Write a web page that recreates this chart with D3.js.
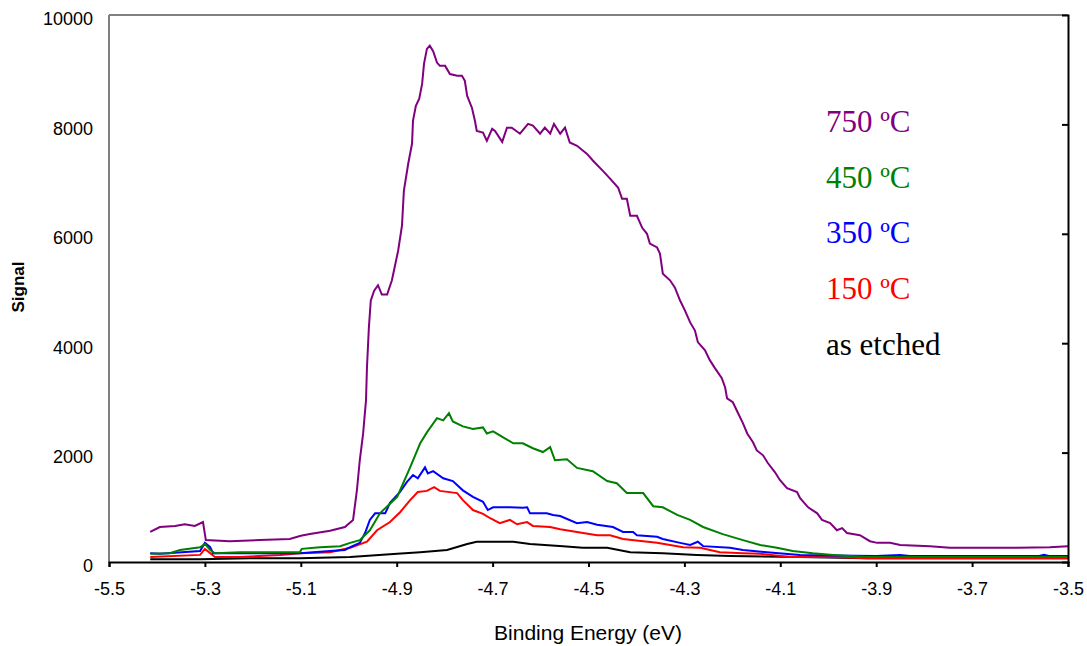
<!DOCTYPE html>
<head>
  <meta charset="utf-8">
  <script src="https://cdn.jsdelivr.net/npm/d3@7"></script>
  <style>
    body { margin: 0; background: #fff; }
    .tick text { font-family: "Liberation Sans", Arial, sans-serif; font-size: 18px; fill: #000; }
  </style>
</head>
<body>
<svg id="chart" width="1087" height="646"></svg>
<script>
// [binding energy (eV), signal]
var s750 = [[-5.414,550],[-5.394,640],[-5.362,660],[-5.342,690],[-5.321,660],[-5.304,730],[-5.298,400],[-5.248,380],
  [-5.185,400],[-5.123,420],[-5.100,480],[-5.081,510],[-5.039,570],[-5.008,640],[-4.991,770],[-4.983,1310],[-4.977,1860],[-4.970,2350],
  [-4.964,2960],[-4.962,3560],[-4.958,4290],[-4.954,4780],[-4.947,4960],[-4.939,5060],[-4.931,4890],[-4.920,4890],
  [-4.910,5150],[-4.897,5690],[-4.889,6150],[-4.885,6790],[-4.876,7280],[-4.868,7650],[-4.866,8070],[-4.860,8340],
  [-4.853,8470],[-4.847,8740],[-4.843,9110],[-4.837,9380],[-4.831,9440],[-4.824,9340],[-4.816,9130],[-4.810,9070],
  [-4.799,9070],[-4.789,8920],[-4.774,8890],[-4.764,8890],[-4.758,8800],[-4.753,8520],[-4.743,8300],[-4.737,8070],
  [-4.733,7880],[-4.720,7850],[-4.712,7700],[-4.701,7920],[-4.695,7880],[-4.680,7680],[-4.670,7940],[-4.660,7940],
  [-4.643,7830],[-4.626,8010],[-4.616,7980],[-4.601,7830],[-4.591,7940],[-4.580,7830],[-4.572,8010],[-4.559,7830],
  [-4.549,7940],[-4.539,7670],[-4.524,7610],[-4.503,7460],[-4.491,7340],[-4.470,7150],[-4.455,7010],[-4.438,6840],
  [-4.430,6640],[-4.420,6640],[-4.413,6330],[-4.399,6330],[-4.388,6110],[-4.378,6000],[-4.372,5820],[-4.357,5750],
  [-4.351,5640],[-4.345,5270],[-4.330,5150],[-4.320,5020],[-4.309,4780],[-4.299,4600],[-4.288,4380],[-4.278,4230],
  [-4.272,4020],[-4.257,3870],[-4.247,3690],[-4.236,3540],[-4.222,3360],[-4.215,3190],[-4.211,2990],[-4.199,2920],
  [-4.188,2720],[-4.178,2540],[-4.169,2350],[-4.157,2190],[-4.149,2040],[-4.136,1950],[-4.126,1810],[-4.111,1640],
  [-4.101,1500],[-4.086,1350],[-4.065,1280],[-4.059,1170],[-4.042,1000],[-4.023,890],[-4.013,770],[-3.996,710],
  [-3.982,580],[-3.971,620],[-3.961,530],[-3.934,490],[-3.913,380],[-3.898,350],[-3.871,350],[-3.850,310],
  [-3.788,290],[-3.746,260],[-3.677,260],[-3.606,260],[-3.538,270],[-3.500,290]]

var s450 = [[-5.414,150],[-5.373,160],[-5.352,220],[-5.310,270],[-5.300,330],[-5.289,220],[-5.279,160],[-5.227,180],
  [-5.102,180],[-5.098,240],[-5.060,270],[-5.018,290],[-4.997,350],[-4.977,400],[-4.956,580],[-4.935,890],[-4.899,1190],
  [-4.872,1730],[-4.851,2170],[-4.837,2370],[-4.816,2630],[-4.803,2590],[-4.791,2720],[-4.783,2570],[-4.762,2480],
  [-4.741,2430],[-4.720,2460],[-4.712,2350],[-4.699,2390],[-4.678,2280],[-4.657,2170],[-4.637,2170],[-4.616,2080],
  [-4.595,2010],[-4.580,2100],[-4.570,1860],[-4.545,1880],[-4.524,1720],[-4.491,1660],[-4.461,1480],[-4.441,1440],
  [-4.420,1260],[-4.386,1260],[-4.365,1020],[-4.345,1000],[-4.315,860],[-4.288,770],[-4.261,640],[-4.220,510],
  [-4.178,400],[-4.142,310],[-4.107,260],[-4.074,200],[-4.032,160],[-3.990,130],[-3.919,90],[-3.500,90]]

var s350 = [[-5.414,160],[-5.394,150],[-5.310,200],[-5.300,350],[-5.289,270],[-5.283,160],[-5.102,160],[-5.039,200],
  [-5.008,220],[-4.997,270],[-4.977,350],[-4.966,530],[-4.956,770],[-4.945,890],[-4.924,890],[-4.914,1080],
  [-4.893,1280],[-4.879,1460],[-4.866,1590],[-4.856,1530],[-4.841,1730],[-4.835,1620],[-4.824,1660],[-4.803,1530],
  [-4.783,1480],[-4.762,1310],[-4.741,1190],[-4.720,1100],[-4.710,950],[-4.699,1000],[-4.664,1000],[-4.637,990],
  [-4.628,1000],[-4.622,890],[-4.587,890],[-4.574,860],[-4.559,840],[-4.524,710],[-4.503,730],[-4.482,680],
  [-4.449,640],[-4.428,550],[-4.407,550],[-4.399,490],[-4.357,460],[-4.345,420],[-4.309,350],[-4.288,310],
  [-4.272,370],[-4.261,290],[-4.205,260],[-4.178,220],[-4.128,180],[-4.059,130],[-3.990,120],[-3.900,110],
  [-3.850,130],[-3.830,110],[-3.560,110],[-3.550,130],[-3.540,110],[-3.500,110]]

var s150 = [[-5.414,90],[-5.310,130],[-5.300,240],[-5.279,90],[-5.227,90],[-5.143,130],[-5.102,160],[-5.039,180],
  [-4.997,260],[-4.962,370],[-4.941,580],[-4.914,730],[-4.893,910],[-4.872,1130],[-4.856,1280],[-4.837,1300],
  [-4.822,1370],[-4.810,1300],[-4.774,1260],[-4.762,1130],[-4.741,950],[-4.720,880],[-4.705,800],[-4.685,710],
  [-4.664,770],[-4.649,690],[-4.628,730],[-4.616,660],[-4.580,640],[-4.559,600],[-4.524,550],[-4.482,490],
  [-4.455,490],[-4.428,420],[-4.386,380],[-4.357,350],[-4.303,270],[-4.267,260],[-4.226,180],[-4.178,160],
  [-4.142,150],[-4.080,90],[-3.990,90],[-3.919,70],[-3.500,70]]

var sEtched = [[-5.414,50],[-5.310,50],[-5.206,70],[-5.102,70],[-4.997,90],[-4.899,150],[-4.851,180],[-4.795,220],
  [-4.753,330],[-4.733,370],[-4.657,370],[-4.622,330],[-4.553,290],[-4.512,260],[-4.461,260],[-4.413,180],
  [-4.345,160],[-4.274,130],[-4.205,110],[-4.059,90],[-3.919,70],[-3.500,70]]

var seriesNames = ['as etched', '150 ºC', '350 ºC', '450 ºC', '750 ºC']
var seriesData = [sEtched, s150, s350, s450, s750]
var seriesColors = ['#000000', '#ff0000', '#0000ff', '#008000', '#800080']
var xTicks = [-5.5, -5.3, -5.1, -4.9, -4.7, -4.5, -4.3, -4.1, -3.9, -3.7, -3.5]
var yTicks = [0, 2000, 4000, 6000, 8000, 10000]

var svg = d3.select('#chart')
  , pLeft = 109, pRight = 1068, pTop = 15, pBottom = 562

var x = d3.scaleLinear().domain([-5.5, -3.5]).range([pLeft, pRight])
var y = d3.scaleLinear().domain([0, 10000]).range([pBottom, pTop])

// frame: grey left/top, black right/bottom
svg.append('line').attr('x1', pLeft).attr('x2', pRight).attr('y1', pTop).attr('y2', pTop)
  .attr('stroke', '#808080').attr('stroke-width', 2)
svg.append('line').attr('x1', pLeft).attr('x2', pLeft).attr('y1', pTop).attr('y2', pBottom)
  .attr('stroke', '#808080').attr('stroke-width', 2)

var line = d3.line().x(function (d) { return x(d[0]) }).y(function (d) { return y(d[1]) })

svg.selectAll('path.series').data(seriesData).enter()
  .append('path').attr('class', 'series')
  .attr('d', line)
  .attr('fill', 'none')
  .attr('stroke', function (d, i) { return seriesColors[i] })
  .attr('stroke-width', 2)

svg.append('g').attr('transform', 'translate(0,' + pBottom + ')')
  .call(d3.axisBottom(x).tickValues(xTicks).tickSize(5).tickPadding(15)
    .tickFormat(function (d) { return d.toFixed(1) }))
  .call(function (g) {
    g.select('.domain').attr('stroke', '#000').attr('stroke-width', 2)
    g.selectAll('.tick line').attr('stroke', '#000').attr('stroke-width', 2)
  })

svg.append('g').attr('transform', 'translate(' + pRight + ',0)')
  .call(d3.axisLeft(y).tickValues([2000, 4000, 6000, 8000]).tickSize(6).tickFormat(''))
  .call(function (g) {
    g.select('.domain').attr('stroke', '#000').attr('stroke-width', 2)
    g.selectAll('.tick line').attr('stroke', '#000').attr('stroke-width', 2)
  })

svg.append('g').attr('transform', 'translate(' + pLeft + ',0)')
  .call(d3.axisLeft(y).tickValues(yTicks).tickSize(0).tickPadding(16).tickFormat(d3.format('d')))
  .call(function (g) {
    g.select('.domain').remove()
    g.selectAll('.tick text').attr('dy', '0.55em')
  })

svg.append('text').attr('x', 588).attr('y', 640)
  .attr('text-anchor', 'middle')
  .style('font-family', '"Liberation Sans", Arial, sans-serif').style('font-size', '21px')
  .text('Binding Energy (eV)')

svg.append('text').attr('transform', 'translate(24,287) rotate(-90)')
  .attr('text-anchor', 'middle')
  .style('font-family', '"Liberation Sans", Arial, sans-serif').style('font-size', '17px')
  .style('font-weight', 'bold')
  .text('Signal')

// legend, top entry first
var legendOrder = [4, 3, 2, 1, 0]
svg.selectAll('text.legend').data(legendOrder).enter()
  .append('text').attr('class', 'legend')
  .attr('x', 826)
  .attr('y', function (d, i) { return 132 + i * 55.7 })
  .style('font-family', '"Liberation Serif", "Times New Roman", serif').style('font-size', '31px')
  .attr('fill', function (d) { return seriesColors[d] })
  .text(function (d) { return seriesNames[d] })
</script>
</body>
